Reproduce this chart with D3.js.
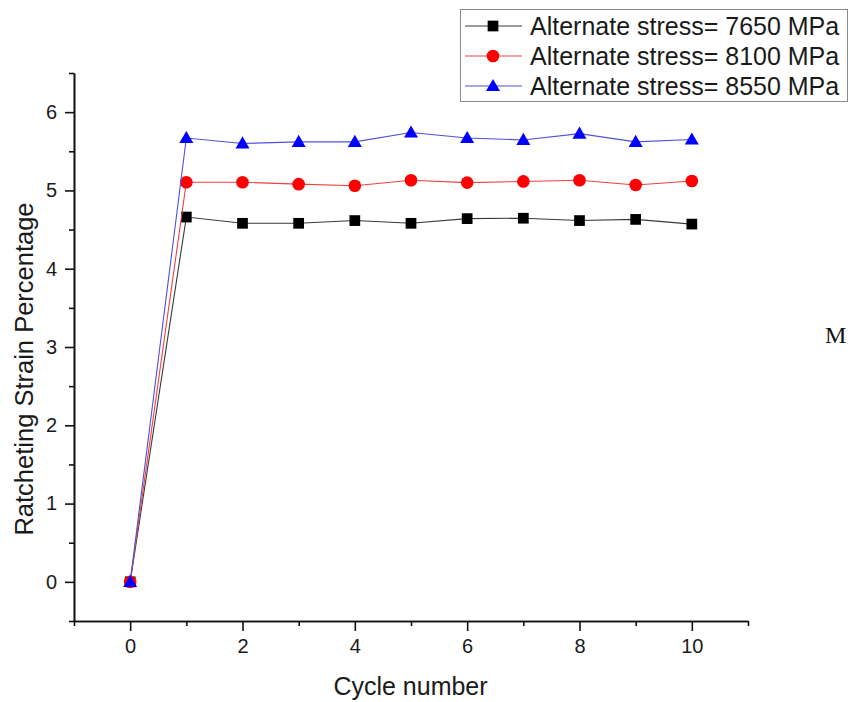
<!DOCTYPE html>
<html>
<head>
<meta charset="utf-8">
<script src="https://cdn.jsdelivr.net/npm/d3@7"></script>
<style>
  html, body { margin: 0; padding: 0; background: #fff; }
  svg { display: block; font-family: "Liberation Sans", Arial, sans-serif; }
</style>
</head>
<body>
<svg id="chart" width="850" height="702"></svg>
<script>
// ---- data ----
const cycles = [0, 1, 2, 3, 4, 5, 6, 7, 8, 9, 10];
const stress7650 = [0, 4.66, 4.58, 4.58, 4.615, 4.58, 4.64, 4.645, 4.615, 4.63, 4.57];
const stress8100 = [0, 5.105, 5.105, 5.08, 5.06, 5.13, 5.10, 5.115, 5.13, 5.07, 5.12];
const stress8550 = [0, 5.67, 5.60, 5.62, 5.62, 5.74, 5.67, 5.645, 5.725, 5.62, 5.65];
const seriesNames = ["Alternate stress= 7650 MPa", "Alternate stress= 8100 MPa", "Alternate stress= 8550 MPa"];
const xMajorTicks = [0, 2, 4, 6, 8, 10];
const xMinorTicks = [-1, 1, 3, 5, 7, 9, 11];
const yMajorTicks = [0, 1, 2, 3, 4, 5, 6];
const yMinorTicks = [-0.5, 0.5, 1.5, 2.5, 3.5, 4.5, 5.5, 6.5];
const xTitle = "Cycle number";
const yTitle = "Ratcheting Strain Percentage";

const series = [
  { name: seriesNames[0], values: stress7650, color: "#000000", line: "#3a3a3a", shape: "square" },
  { name: seriesNames[1], values: stress8100, color: "#ff0000", line: "#f04040", shape: "circle" },
  { name: seriesNames[2], values: stress8550, color: "#0000ff", line: "#5050d8", shape: "triangle" }
];

const svg = d3.select("#chart");
const plotLeft = 74, plotRight = 748, plotTop = 73, plotBottom = 621;

const x = d3.scaleLinear().domain([-1, 11]).range([plotLeft, plotRight]);
const y = d3.scaleLinear().domain([-0.5, 6.5]).range([plotBottom, plotTop]);

// ---- axes ----
function styleAxis(g) {
  g.selectAll("path.domain").attr("stroke", "#111").attr("stroke-width", 1.6);
  g.selectAll(".tick line").attr("stroke", "#111").attr("stroke-width", 1.6);
  g.selectAll(".tick text").attr("fill", "#1a1a1a").style("font-size", "20px")
    .style("font-family", "'Liberation Sans', Arial, sans-serif");
}

const xAxisMinor = svg.append("g").attr("transform", `translate(0,${plotBottom})`)
  .call(d3.axisBottom(x).tickValues(xMinorTicks).tickSize(5).tickSizeOuter(0).tickFormat(""));
styleAxis(xAxisMinor);
const xAxis = svg.append("g").attr("transform", `translate(0,${plotBottom})`)
  .call(d3.axisBottom(x).tickValues(xMajorTicks).tickSize(10).tickSizeOuter(0).tickPadding(8).tickFormat(d3.format("d")));
styleAxis(xAxis);

const yAxisMinor = svg.append("g").attr("transform", `translate(${plotLeft},0)`)
  .call(d3.axisLeft(y).tickValues(yMinorTicks).tickSize(5).tickSizeOuter(0).tickFormat(""));
styleAxis(yAxisMinor);
const yAxis = svg.append("g").attr("transform", `translate(${plotLeft},0)`)
  .call(d3.axisLeft(y).tickValues(yMajorTicks).tickSize(9).tickSizeOuter(0).tickPadding(8).tickFormat(d3.format("d")));
styleAxis(yAxis);

// ---- titles ----
svg.append("text")
  .attr("x", (333 + 488) / 2).attr("y", 695)
  .attr("text-anchor", "middle")
  .attr("fill", "#1a1a1a")
  .style("font-size", "25px")
  .text(xTitle);

svg.append("text")
  .attr("transform", `translate(33,${(203 + 535) / 2}) rotate(-90)`)
  .attr("text-anchor", "middle")
  .attr("fill", "#1a1a1a")
  .style("font-size", "25.5px")
  .text(yTitle);

// ---- markers ----
const symSquare = d3.symbol().type(d3.symbolSquare).size(115);
const symCircle = d3.symbol().type(d3.symbolCircle).size(125);
const symTriangle = d3.symbol().type(d3.symbolTriangle).size(85);
function symbolPath(shape) {
  if (shape === "square") return symSquare();
  if (shape === "circle") return symCircle();
  return symTriangle();
}

const line = d3.line().x((d, i) => x(cycles[i])).y(d => y(d));

series.forEach(s => {
  const g = svg.append("g");
  g.append("path")
    .attr("d", line(s.values))
    .attr("fill", "none")
    .attr("stroke", s.line)
    .attr("stroke-width", 1.1);
  g.selectAll("path.mk")
    .data(s.values)
    .enter().append("path")
    .attr("class", "mk")
    .attr("transform", (d, i) => `translate(${x(cycles[i])},${y(d) + (s.shape === "triangle" ? 1 : 0)})`)
    .attr("d", symbolPath(s.shape))
    .attr("fill", s.color);
});

// ---- legend ----
const legend = svg.append("g");
legend.append("rect")
  .attr("x", 460.5).attr("y", 9.5).attr("width", 387).attr("height", 92)
  .attr("fill", "#fff").attr("stroke", "#8a8a8a").attr("stroke-width", 1);
series.forEach((s, i) => {
  const cy = 26 + i * 30;
  legend.append("line")
    .attr("x1", 465).attr("x2", 522).attr("y1", cy).attr("y2", cy)
    .attr("stroke", s.line).attr("stroke-width", 1.1);
  legend.append("path")
    .attr("transform", `translate(493,${cy + (s.shape === "triangle" ? 1 : 0)})`)
    .attr("d", symbolPath(s.shape))
    .attr("fill", s.color);
  legend.append("text")
    .attr("x", 530).attr("y", cy + 9)
    .attr("fill", "#1a1a1a")
    .style("font-size", "25px")
    .text(s.name);
});

// stray glyph at right edge
svg.append("text")
  .attr("x", 825).attr("y", 343)
  .style("font-family", "'Liberation Serif', 'Times New Roman', serif")
  .style("font-size", "24px")
  .attr("fill", "#111")
  .text("M");
</script>
</body>
</html>
